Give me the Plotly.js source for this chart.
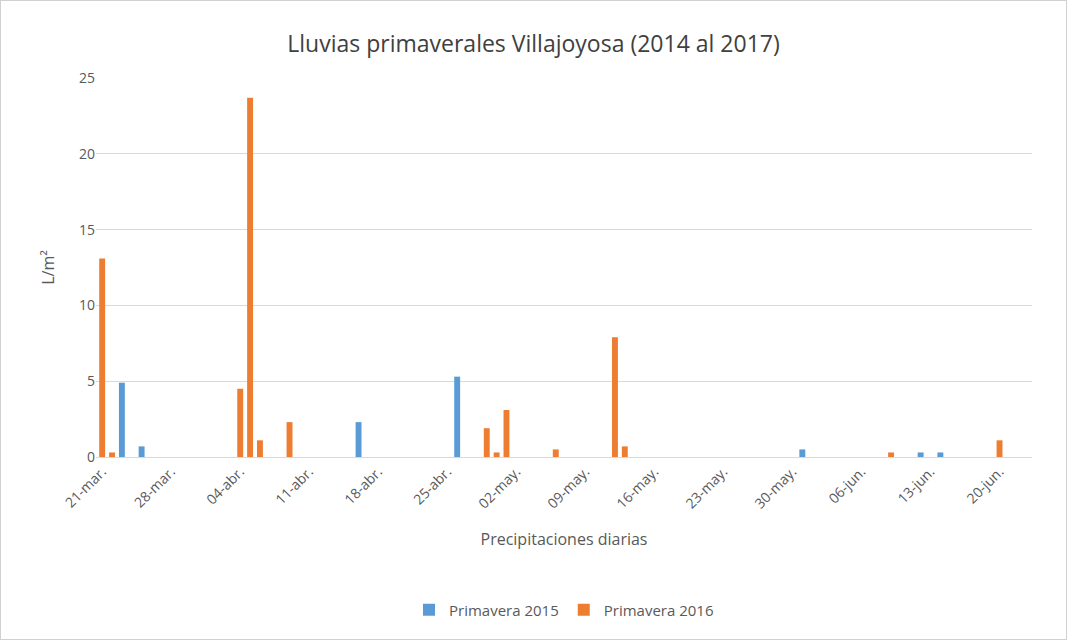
<!DOCTYPE html>
<html>
<head>
<meta charset="utf-8">
<script src="https://cdn.plot.ly/plotly-3.0.1.min.js"></script>
<style>
  body { margin: 0; }
  #chart { width: 1065px; height: 638px; border: 1px solid #d0d0d0; }
</style>
</head>
<body>
<div id="chart"></div>
<script>
// daily rainfall, L/m2
var dates2015 = ['2016-03-23', '2016-03-25', '2016-04-16', '2016-04-26', '2016-05-31', '2016-06-12', '2016-06-14'];
var rain2015 = [4.9, 0.7, 2.3, 5.3, 0.5, 0.3, 0.3];

var dates2016 = ['2016-03-21', '2016-03-22', '2016-04-04', '2016-04-05', '2016-04-06', '2016-04-09',
  '2016-04-29', '2016-04-30', '2016-05-01', '2016-05-06', '2016-05-12', '2016-05-13', '2016-06-09', '2016-06-20'];
var rain2016 = [13.1, 0.3, 4.5, 23.7, 1.1, 2.3, 1.9, 0.3, 3.1, 0.5, 7.9, 0.7, 0.3, 1.1];

var tickDates = ['2016-03-21', '2016-03-28', '2016-04-04', '2016-04-11', '2016-04-18', '2016-04-25', '2016-05-02',
  '2016-05-09', '2016-05-16', '2016-05-23', '2016-05-30', '2016-06-06', '2016-06-13', '2016-06-20'];
var tickLabels = ['21-mar.', '28-mar.', '04-abr.', '11-abr.', '18-abr.', '25-abr.', '02-may.',
  '09-may.', '16-may.', '23-may.', '30-may.', '06-jun.', '13-jun.', '20-jun.'];

var DAY = 86400000;

var traces = [
  { x: dates2015, y: rain2015, type: 'bar', name: 'Primavera 2015', width: DAY * 0.6,
    marker: { color: '#5b9bd5' } },
  { x: dates2016, y: rain2016, type: 'bar', name: 'Primavera 2016', width: DAY * 0.6,
    marker: { color: '#ed7d31' } }
];

var layout = {
  title: { text: 'Lluvias primaverales Villajoyosa (2014 al 2017)', font: { size: 23, color: '#404040' }, y: 0.945 },
  font: { family: 'Open Sans, sans-serif', color: '#595959' },
  barmode: 'overlay',
  margin: { l: 95, r: 34, t: 77, b: 178 },
  xaxis: {
    type: 'date',
    range: ['2016-03-20 09:00', '2016-06-23 07:00'],
    tickvals: tickDates,
    ticktext: tickLabels,
    tickangle: -45,
    tickfont: { size: 14 },
    showgrid: false,
    showline: true,
    linecolor: '#d9d9d9',
    title: { text: 'Precipitaciones diarias', font: { size: 16 }, standoff: 22 }
  },
  yaxis: {
    range: [0, 25],
    dtick: 5,
    tickfont: { size: 14 },
    gridcolor: '#d9d9d9',
    zeroline: false,
    title: { text: 'L/m²', font: { size: 16 } }
  },
  legend: { orientation: 'h', x: 0.5, xanchor: 'center', y: -0.36, font: { size: 15 } },
  showlegend: true
};

Plotly.newPlot('chart', traces, layout, { displayModeBar: false });
</script>
</body>
</html>
